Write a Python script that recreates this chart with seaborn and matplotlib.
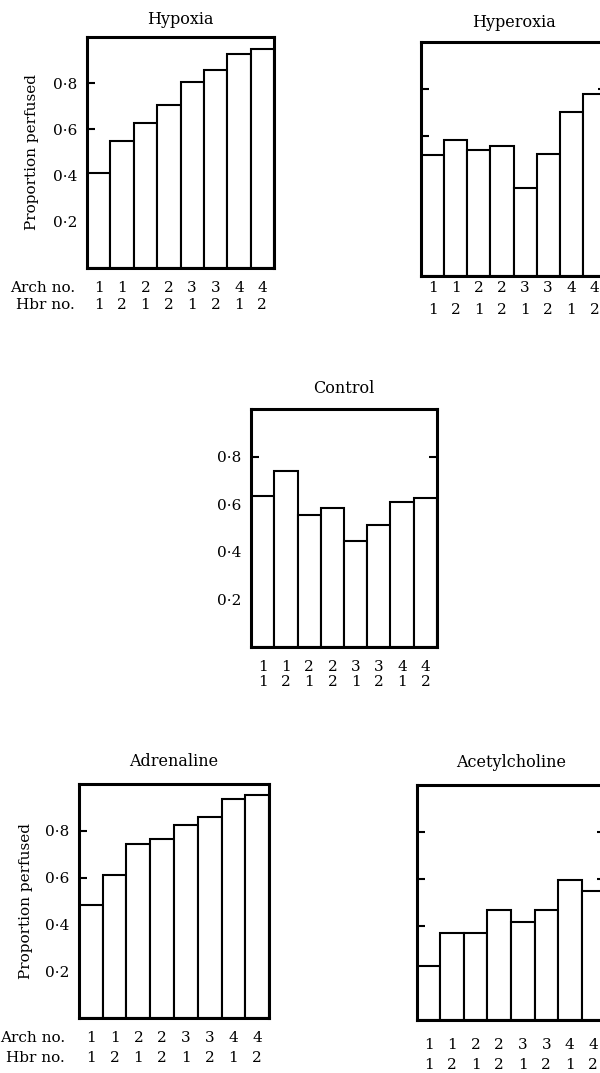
import numpy as np
import pandas as pd
import seaborn as sns
import matplotlib
matplotlib.use("Agg")
import matplotlib.pyplot as plt

# values
arch_no = [1, 1, 2, 2, 3, 3, 4, 4]
hbr_no = [1, 2, 1, 2, 1, 2, 1, 2]
hypoxia = [0.413, 0.551, 0.628, 0.706, 0.807, 0.855, 0.928, 0.949]
hyperoxia = [0.516, 0.583, 0.537, 0.554, 0.376, 0.523, 0.701, 0.776]
control = [0.633, 0.740, 0.555, 0.582, 0.444, 0.511, 0.610, 0.628]
adrenaline = [0.481, 0.611, 0.743, 0.764, 0.826, 0.857, 0.936, 0.953]
acetylcholine = [0.229, 0.371, 0.369, 0.466, 0.419, 0.469, 0.594, 0.551]
ytick_vals = [0.2, 0.4, 0.6, 0.8]
ytick_labels = ["0·2", "0·4", "0·6", "0·8"]

sns.set_style("ticks")
plt.rcParams['font.family'] = ['DejaVu Serif']
plt.rcParams['font.size'] = 11
# plain black text like the printed figure
for k in ['text.color', 'axes.labelcolor', 'xtick.color', 'ytick.color']:
    plt.rcParams[k] = 'black'

W, H = 600, 1073
fig = plt.figure(figsize=(W / 100, H / 100), dpi=100)

def rect(left, top, width, height):
    return [left / W, 1 - (top + height) / H, width / W, height / H]

def panel(vals, box, title, title_pad, ylabels, row_dy, side_labels=None, ylabel_pad=None):
    ax = fig.add_axes(rect(*box))
    df = pd.DataFrame({"site": [f"{a}-{h}" for a, h in zip(arch_no, hbr_no)],
                       "value": vals})
    sns.barplot(data=df, x="site", y="value", color="white", edgecolor="black",
                linewidth=1.5, width=1.0, saturation=1, ax=ax)
    ax.set_xlim(-0.5, 7.5)
    ax.set_ylim(0, 1.0)
    ax.set_xticks([])
    ax.set_xlabel("")
    ax.set_yticks(ytick_vals)
    ax.set_yticklabels(ytick_labels if ylabels else [])
    ax.tick_params(axis="y", direction="in", length=6, width=1.5, left=True,
                   right=True, labelleft=ylabels, pad=7, labelsize=11)
    for s in ax.spines.values():
        s.set_visible(True)
        s.set_linewidth(2.2)
        s.set_color("black")
    ax.set_title(title, fontsize=11.5, pad=title_pad)
    if ylabel_pad is not None:
        ax.set_ylabel("Proportion perfused", fontsize=11, labelpad=ylabel_pad)
    else:
        ax.set_ylabel("")
    # two rows of numbers under the bars
    for i in range(len(vals)):
        ax.annotate(str(arch_no[i]), xy=(i, 0), xycoords=("data", "axes fraction"),
                    xytext=(0, -row_dy[0]), textcoords="offset pixels",
                    ha="center", va="center", fontsize=11)
        ax.annotate(str(hbr_no[i]), xy=(i, 0), xycoords=("data", "axes fraction"),
                    xytext=(0, -row_dy[1]), textcoords="offset pixels",
                    ha="center", va="center", fontsize=11)
    if side_labels is not None:
        ax.annotate("Arch no.", xy=(0, 0), xycoords="axes fraction",
                    xytext=(-side_labels, -row_dy[0]), textcoords="offset pixels",
                    ha="right", va="center", fontsize=11)
        ax.annotate("Hbr no.", xy=(0, 0), xycoords="axes fraction",
                    xytext=(-side_labels, -row_dy[1]), textcoords="offset pixels",
                    ha="right", va="center", fontsize=11)
    return ax

panel(hypoxia, (87, 37, 187, 231), "Hypoxia", 9.5, True, (20, 37),
      side_labels=12, ylabel_pad=10)
panel(hyperoxia, (421, 42, 185, 234), "Hyperoxia", 11, False, (12, 34))
panel(control, (251, 409, 186, 238), "Control", 11.5, True, (20, 35))
panel(adrenaline, (79, 784, 190, 234), "Adrenaline", 13, True, (20, 40),
      side_labels=14, ylabel_pad=8.5)
panel(acetylcholine, (417, 785, 188, 235), "Acetylcholine", 13, False, (25, 45))

fig.savefig("out.png", dpi=100, facecolor="white")
